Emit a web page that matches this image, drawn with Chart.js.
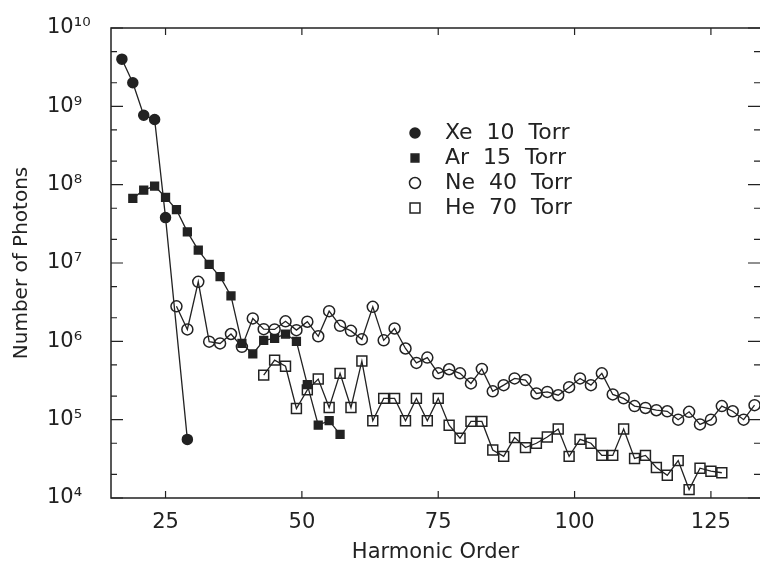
<!DOCTYPE html>
<html>
<head>
<meta charset="utf-8">
<script src="https://cdn.jsdelivr.net/npm/chart.js@4.4.1/dist/chart.umd.min.js"></script>
<style>
  html, body { margin: 0; padding: 0; background: #fff; }
</style>
</head>
<body>
<canvas id="chart" width="760" height="570"></canvas>
<script>
// harmonic orders and photon counts
const xeOrders = [17, 19, 21, 23, 25, 29];
const xeValues = [4.0e9, 2.0e9, 7.7e8, 6.8e8, 3.8e7, 5.6e4];

const arOrders = [19, 21, 23, 25, 27, 29, 31, 33, 35, 37, 39, 41, 43, 45, 47, 49, 51, 53, 55, 57];
const arValues = [6.7e7, 8.5e7, 9.6e7, 6.9e7, 4.8e7, 2.5e7, 1.46e7, 9.6e6, 6.7e6, 3.8e6,
                  9.4e5, 6.9e5, 1.03e6, 1.09e6, 1.24e6, 1.0e6, 2.8e5, 8.5e4, 9.7e4, 6.5e4];

const neOrders = [27, 29, 31, 33, 35, 37, 39, 41, 43, 45, 47, 49, 51, 53, 55, 57, 59, 61,
                  63, 65, 67, 69, 71, 73, 75, 77, 79, 81, 83, 85, 87, 89, 91, 93, 95, 97,
                  99, 101, 103, 105, 107, 109, 111, 113, 115, 117, 119, 121, 123, 125, 127, 129, 131, 133];
const neValues = [2.8e6, 1.42e6, 5.75e6, 9.9e5, 9.4e5, 1.24e6, 8.5e5, 1.96e6, 1.43e6, 1.42e6, 1.8e6, 1.39e6,
                  1.78e6, 1.16e6, 2.43e6, 1.58e6, 1.36e6, 1.06e6, 2.76e6, 1.03e6, 1.46e6, 8.1e5, 5.3e5, 6.2e5,
                  3.9e5, 4.4e5, 3.9e5, 2.9e5, 4.45e5, 2.3e5, 2.76e5, 3.36e5, 3.2e5, 2.16e5, 2.26e5, 2.05e5,
                  2.6e5, 3.36e5, 2.76e5, 3.9e5, 2.1e5, 1.87e5, 1.49e5, 1.41e5, 1.32e5, 1.28e5, 1.0e5, 1.26e5,
                  8.7e4, 1.0e5, 1.49e5, 1.28e5, 1.0e5, 1.53e5];

const heOrders = [43, 45, 47, 49, 51, 53, 55, 57, 59, 61, 63, 65, 67, 69, 71, 73, 75, 77, 79, 81, 83, 85,
                  87, 89, 91, 93, 95, 97, 99, 101, 103, 105, 107, 109, 111, 113, 115, 117, 119, 121, 123, 125, 127];
const heValues = [3.7e5, 5.75e5, 4.8e5, 1.39e5, 2.4e5, 3.3e5, 1.43e5, 3.9e5, 1.43e5, 5.6e5, 9.7e4, 1.87e5,
                  1.87e5, 9.7e4, 1.87e5, 9.7e4, 1.87e5, 8.5e4, 5.8e4, 9.5e4, 9.5e4, 4.1e4, 3.4e4, 5.9e4,
                  4.4e4, 5.0e4, 6.0e4, 7.6e4, 3.4e4, 5.6e4, 5.0e4, 3.5e4, 3.5e4, 7.6e4, 3.2e4, 3.5e4,
                  2.45e4, 1.95e4, 3.0e4, 1.28e4, 2.4e4, 2.2e4, 2.1e4];

const xTickValues = [25, 50, 75, 100, 125];
const yTickValues = [1e4, 1e5, 1e6, 1e7, 1e8, 1e9, 1e10];
const yMinorFactors = [2, 5];

const FONT = '"DejaVu Sans", sans-serif';
const INK = '#222';
const SUP = { '0': '\u2070', '1': '\u00b9', '2': '\u00b2', '3': '\u00b3', '4': '\u2074',
              '5': '\u2075', '6': '\u2076', '7': '\u2077', '8': '\u2078', '9': '\u2079' };

const toPoints = (xs, ys) => xs.map((x, i) => ({ x: x, y: ys[i] }));

const series = (label, xs, ys, style, radius, filled) => ({
    label: label,
    data: toPoints(xs, ys),
    borderColor: INK,
    borderWidth: 1.3,
    tension: 0,
    pointStyle: style,
    pointRadius: radius,
    pointHoverRadius: radius,
    pointBorderWidth: 1.5,
    pointBorderColor: INK,
    pointBackgroundColor: filled ? INK : 'rgba(0,0,0,0)',
});

// box frame with inward tick marks on all sides
const frameTicks = {
    id: 'frameTicks',
    afterDatasetsDraw(chart) {
        const { ctx, chartArea: a, scales: { x, y } } = chart;
        ctx.save();
        ctx.strokeStyle = INK;
        ctx.lineWidth = 1.5;
        ctx.beginPath();
        ctx.moveTo(a.right + 2, a.top);
        ctx.lineTo(a.left, a.top);
        ctx.lineTo(a.left, a.bottom);
        ctx.lineTo(a.right + 2, a.bottom);
        ctx.stroke();

        ctx.lineWidth = 1.2;
        ctx.beginPath();
        yTickValues.forEach((v, i) => {
            const py = y.getPixelForValue(v);
            ctx.moveTo(a.left, py); ctx.lineTo(a.left + 12, py);
            ctx.moveTo(a.right, py); ctx.lineTo(a.right - 12, py);
            if (i < yTickValues.length - 1) {
                yMinorFactors.forEach(f => {
                    const pm = y.getPixelForValue(v * f);
                    ctx.moveTo(a.left, pm); ctx.lineTo(a.left + 6, pm);
                    ctx.moveTo(a.right, pm); ctx.lineTo(a.right - 6, pm);
                });
            }
        });
        xTickValues.forEach(v => {
            const px = x.getPixelForValue(v);
            ctx.moveTo(px, a.bottom); ctx.lineTo(px, a.bottom - 7);
            ctx.moveTo(px, a.top); ctx.lineTo(px, a.top + 7);
        });
        ctx.stroke();
        ctx.restore();
    }
};

// legend placed inside the plot area
const insideLegend = {
    id: 'insideLegend',
    afterDraw(chart) {
        const { ctx } = chart;
        ctx.save();
        ctx.font = '22px ' + FONT;
        ctx.textBaseline = 'middle';
        ctx.textAlign = 'left';
        chart.data.datasets.forEach((ds, i) => {
            const yy = 133 + i * 25;
            ctx.fillStyle = ds.pointBackgroundColor;
            ctx.strokeStyle = ds.pointBorderColor;
            ctx.lineWidth = ds.pointBorderWidth;
            Chart.helpers.drawPoint(ctx, {
                pointStyle: ds.pointStyle,
                radius: ds.pointRadius,
                borderWidth: ds.pointBorderWidth,
                rotation: 0
            }, 415, yy);
            ctx.fillStyle = INK;
            ctx.fillText(ds.label, 445, yy);
        });
        ctx.restore();
    }
};

new Chart(document.getElementById('chart').getContext('2d'), {
    type: 'line',
    data: {
        datasets: [
            series('Xe  10  Torr', xeOrders, xeValues, 'circle', 5, true),
            series('Ar  15  Torr', arOrders, arValues, 'rect', 5.5, true),
            series('Ne  40  Torr', neOrders, neValues, 'circle', 5.5, false),
            series('He  70  Torr', heOrders, heValues, 'rect', 7, false),
        ],
    },
    options: {
        responsive: false,
        animation: false,
        devicePixelRatio: 1,
        layout: { autoPadding: false, padding: { left: 47, top: 28, right: 0, bottom: 0 } },
        plugins: {
            legend: { display: false },
            tooltip: { enabled: false },
        },
        scales: {
            x: {
                type: 'linear',
                min: 15,
                max: 134,
                grid: { display: false, drawTicks: false },
                border: { display: false },
                afterBuildTicks: s => { s.ticks = xTickValues.map(v => ({ value: v })); },
                afterFit: s => { s.height = 72; },
                ticks: { color: INK, padding: 12, font: { family: FONT, size: 21 } },
                title: {
                    display: true,
                    text: 'Harmonic Order',
                    color: INK,
                    font: { family: FONT, size: 21 },
                    padding: { top: 0, bottom: 5 },
                },
            },
            y: {
                type: 'logarithmic',
                min: 1e4,
                max: 1e10,
                grid: { display: false, drawTicks: false },
                border: { display: false },
                afterBuildTicks: s => { s.ticks = yTickValues.map(v => ({ value: v })); },
                afterFit: s => { s.width = 64; },
                ticks: {
                    color: INK,
                    crossAlign: 'far',
                    font: { family: FONT, size: 21 },
                    callback: v => '10' + String(Math.round(Math.log10(v))).split('').map(d => SUP[d]).join(''),
                },
                title: {
                    display: true,
                    text: 'Number of Photons',
                    color: INK,
                    font: { family: FONT, size: 20 },
                    padding: { top: -37, bottom: 0 },
                },
            },
        },
    },
    plugins: [frameTicks, insideLegend],
});
</script>
</body>
</html>
